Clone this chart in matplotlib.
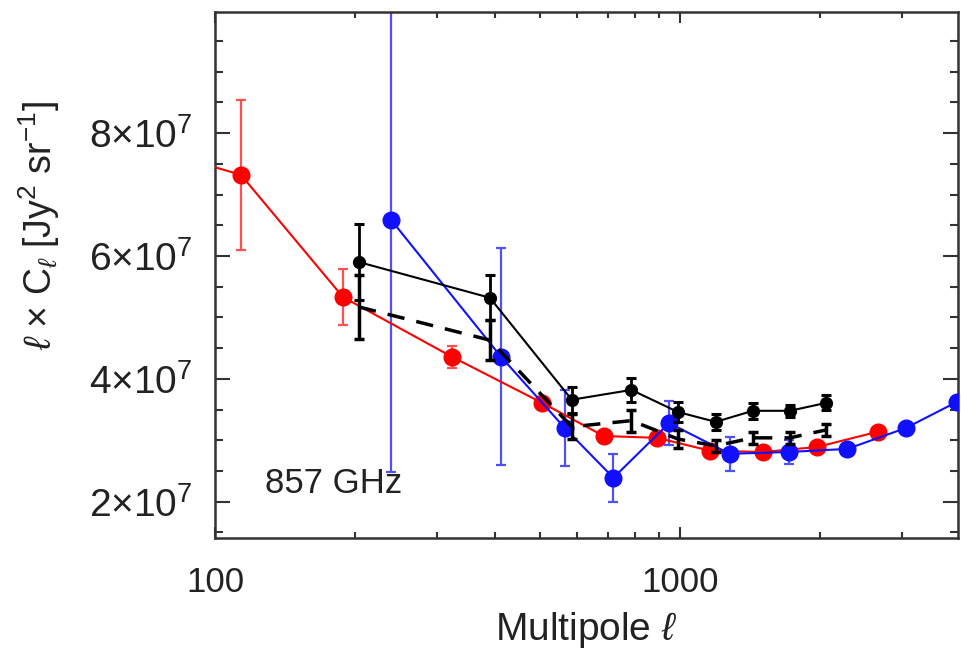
import numpy as np
import matplotlib
matplotlib.use("Agg")
import matplotlib.pyplot as plt
from matplotlib.ticker import FixedLocator, FuncFormatter, NullFormatter, MultipleLocator

# ---- data ----
red_l = [75, 113.7, 188.5, 323, 505, 685, 893, 1160, 1508, 1968, 2664]
red_v = [7.72e7, 7.32e7, 5.33e7, 4.36e7, 3.61e7, 3.07e7, 3.04e7, 2.83e7, 2.81e7, 2.89e7, 3.14e7]
red_e = [1.2e7, 1.22e7, 0.45e7, 0.18e7, 0.08e7, 0.08e7, 0.06e7, 0.06e7, 0.05e7, 0.05e7, 0.05e7]

blue_l = [239, 412, 565, 719, 947, 1279, 1712, 2290, 3059, 3950]
blue_v = [6.59e7, 4.36e7, 3.20e7, 2.39e7, 3.28e7, 2.78e7, 2.81e7, 2.86e7, 3.20e7, 3.63e7]
blue_e = [4.1e7, 1.77e7, 0.62e7, 0.39e7, 0.36e7, 0.28e7, 0.2e7, 0.08e7, 0.08e7, 0.08e7]

blk_l = [204, 390, 585, 786, 990, 1193, 1434, 1723, 2064]
blk_v = [5.90e7, 5.32e7, 3.66e7, 3.82e7, 3.46e7, 3.30e7, 3.48e7, 3.48e7, 3.61e7]
blk_e = [0.62e7, 0.37e7, 0.21e7, 0.2e7, 0.16e7, 0.13e7, 0.13e7, 0.1e7, 0.12e7]

dsh_v = [5.17e7, 4.63e7, 3.22e7, 3.32e7, 3.02e7, 2.91e7, 3.04e7, 3.04e7, 3.17e7]
dsh_e = [0.52e7, 0.33e7, 0.2e7, 0.18e7, 0.15e7, 0.1e7, 0.1e7, 0.1e7, 0.1e7]

ytick_vals = [2e7, 4e7, 6e7, 8e7]
xtick_vals = [100, 1000]

plt.rcParams['font.family'] = ['Liberation Sans', 'DejaVu Sans']
plt.rcParams['mathtext.fontset'] = 'custom'
plt.rcParams['mathtext.rm'] = 'Liberation Sans'
plt.rcParams['mathtext.it'] = 'Liberation Sans:italic'

fig = plt.figure(figsize=(9.61, 6.51), dpi=100)
ax = fig.add_axes([215/961, 1-538/651, (958-215)/961, (538-12)/651])

ax.set_xscale('log')
ax.set_xlim(100, 3960)
ax.set_ylim(1.41e7, 9.97e7)

# red
ax.errorbar(red_l, red_v, yerr=red_e, fmt='none', ecolor='#ff5050', elinewidth=1.6,
            capsize=3.5, capthick=1.6, zorder=2)
ax.plot(red_l, red_v, '-', color='red', lw=1.5, marker='o', ms=12, zorder=3)
# blue
ax.errorbar(blue_l, blue_v, yerr=blue_e, fmt='none', ecolor='#5050ff', elinewidth=1.6,
            capsize=3.5, capthick=1.6, zorder=2)
ax.plot(blue_l, blue_v, '-', color='#1010ff', lw=1.5, marker='o', ms=12, zorder=3)
# black solid
ax.errorbar(blk_l, blk_v, yerr=blk_e, fmt='none', ecolor='black', elinewidth=2,
            capsize=3.5, capthick=2.2, zorder=4)
ax.plot(blk_l, blk_v, '-', color='black', lw=1.5, marker='o', ms=8.5, zorder=4)
# black dashed
ax.errorbar(blk_l, dsh_v, yerr=dsh_e, fmt='none', ecolor='black', elinewidth=2.5,
            capsize=3.5, capthick=2.5, zorder=4)
ax.plot(blk_l, dsh_v, color='black', lw=2.5, ls=(0, (5, 3.5)), zorder=4)

ax.text(128, 2.3e7, '857 GHz', fontsize=25, ha='left', va='center', color='#222222')

# ticks
ax.xaxis.set_major_locator(FixedLocator(xtick_vals))
ax.xaxis.set_major_formatter(FuncFormatter(lambda v, p: f'{int(v)}'))
ax.xaxis.set_minor_formatter(NullFormatter())
ax.yaxis.set_major_locator(FixedLocator(ytick_vals))
ax.yaxis.set_minor_locator(MultipleLocator(0.5e7))

def yfmt(v, p):
    m = int(round(v / 1e7))
    return r'$%d{\times}10^{7}$' % m
ax.yaxis.set_major_formatter(FuncFormatter(yfmt))

ax.tick_params(which='both', direction='in', top=True, right=True, color='#333333', width=1.5)
ax.tick_params(axis='y', which='major', length=11, labelsize=28, pad=16)
ax.tick_params(axis='y', which='minor', length=5.5)
ax.tick_params(axis='x', which='major', length=8, labelsize=25, pad=20)
ax.tick_params(axis='x', which='minor', length=4)
for lab in ax.get_xticklabels() + ax.get_yticklabels():
    lab.set_color('#222222')

for s in ax.spines.values():
    s.set_color('#333333')
    s.set_linewidth(1.8)

ax.set_xlabel(r'Multipole $\ell$', fontsize=28, color='#222222')
ax.xaxis.set_label_coords(0.5, (538-650)/526)
ax.xaxis.label.set_va('bottom')
ax.set_ylabel(r'$\ell$ $\times$ C$_\ell$ [Jy$^2$ sr$^{-1}$]', fontsize=27, color='#222222')
ax.yaxis.set_label_coords((62-215)/743, (538-225)/526)

fig.savefig('out.png', dpi=100)
